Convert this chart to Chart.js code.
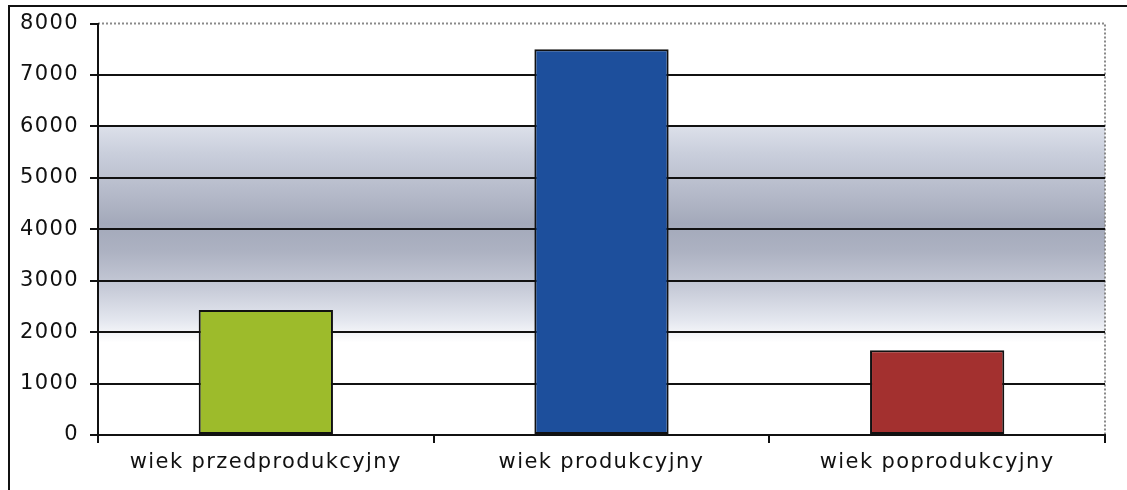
<!DOCTYPE html>
<html>
<head>
<meta charset="utf-8">
<script src="https://cdn.jsdelivr.net/npm/chart.js@4.4.1/dist/chart.umd.min.js"></script>
<style>
  html, body { margin: 0; padding: 0; background: #fff; }
  #wrap { width: 1127px; height: 490px; position: relative; }
</style>
</head>
<body>
<div id="wrap"><canvas id="myChart"></canvas></div>
<script>
// dane wykresu
const categories = ["wiek przedprodukcyjny", "wiek produkcyjny", "wiek poprodukcyjny"];
const values = [2430, 7500, 1650];
const barColors = ["#9dbb2b", "#1d4f9c", "#a3302f"];
const yMax = 8000;
const yStep = 1000;

// tło: ramka, szare pasmo, kropkowana krawędź obszaru wykresu
const backdrop = {
    id: "backdrop",
    beforeDraw(chart) {
        const { ctx, chartArea: a, scales } = chart;
        ctx.save();
        ctx.fillStyle = "#fff";
        ctx.fillRect(0, 0, chart.width, chart.height);

        // zewnętrzna ramka
        ctx.strokeStyle = "#111";
        ctx.lineWidth = 2;
        ctx.beginPath();
        ctx.moveTo(9, chart.height + 2);
        ctx.lineTo(9, 6);
        ctx.lineTo(chart.width + 2, 6);
        ctx.stroke();

        // szare pasmo w tle
        const y = scales.y;
        const top = y.getPixelForValue(6000);
        const bot = y.getPixelForValue(1800);
        const g = ctx.createLinearGradient(0, top, 0, bot);
        g.addColorStop(0, "rgba(220,224,234,1)");
        g.addColorStop(0.12, "rgba(202,207,220,1)");
        g.addColorStop(0.35, "rgba(176,181,197,1)");
        g.addColorStop(0.45, "rgba(163,169,186,1)");
        g.addColorStop(0.58, "rgba(173,178,194,1)");
        g.addColorStop(0.75, "rgba(199,203,216,1)");
        g.addColorStop(0.9, "rgba(228,231,239,1)");
        g.addColorStop(1, "rgba(255,255,255,1)");
        ctx.fillStyle = g;
        ctx.fillRect(a.left, top, a.right - a.left, bot - top);

        // kropkowana górna i prawa krawędź
        ctx.strokeStyle = "#8a8a8a";
        ctx.lineWidth = 2;
        ctx.setLineDash([2, 2]);
        ctx.beginPath();
        ctx.moveTo(a.left, a.top);
        ctx.lineTo(a.right, a.top);
        ctx.lineTo(a.right, a.bottom);
        ctx.stroke();
        ctx.restore();

        // lekko rozciągnięty napis jak na skanie
        ctx.letterSpacing = "1.4px";
    }
};

const ctx = document.getElementById("myChart").getContext("2d");
new Chart(ctx, {
    type: "bar",
    data: {
        labels: categories,
        datasets: [{
            data: values,
            backgroundColor: barColors,
            borderColor: "#111",
            borderWidth: 2,
            borderSkipped: false,
            barPercentage: 0.4,
            categoryPercentage: 1.0
        }]
    },
    options: {
        responsive: true,
        maintainAspectRatio: false,
        animation: false,
        layout: { padding: { left: 10, right: 22, top: 23, bottom: 0 } },
        plugins: {
            legend: { display: false },
            tooltip: { enabled: false }
        },
        scales: {
            x: {
                afterFit: s => { s.height = 55; },
                grid: {
                    drawOnChartArea: false,
                    color: "#111",
                    lineWidth: 2,
                    tickLength: 8
                },
                border: { color: "#111", width: 2 },
                ticks: {
                    color: "#111",
                    padding: 7,
                    font: { family: "DejaVu Sans", size: 21 },
                    maxRotation: 0,
                    autoSkip: false
                }
            },
            y: {
                min: 0,
                max: yMax,
                afterFit: s => { s.width = 88; },
                grid: {
                    color: c => (c.tick && c.tick.value === yMax ? "rgba(0,0,0,0)" : "#111"),
                    lineWidth: 2,
                    tickLength: 8,
                    tickColor: "#111"
                },
                border: { color: "#111", width: 2 },
                ticks: {
                    stepSize: yStep,
                    color: "#111",
                    padding: 11,
                    font: { family: "DejaVu Sans", size: 21 },
                    callback: v => String(v)
                }
            }
        }
    },
    plugins: [backdrop]
});
</script>
</body>
</html>
